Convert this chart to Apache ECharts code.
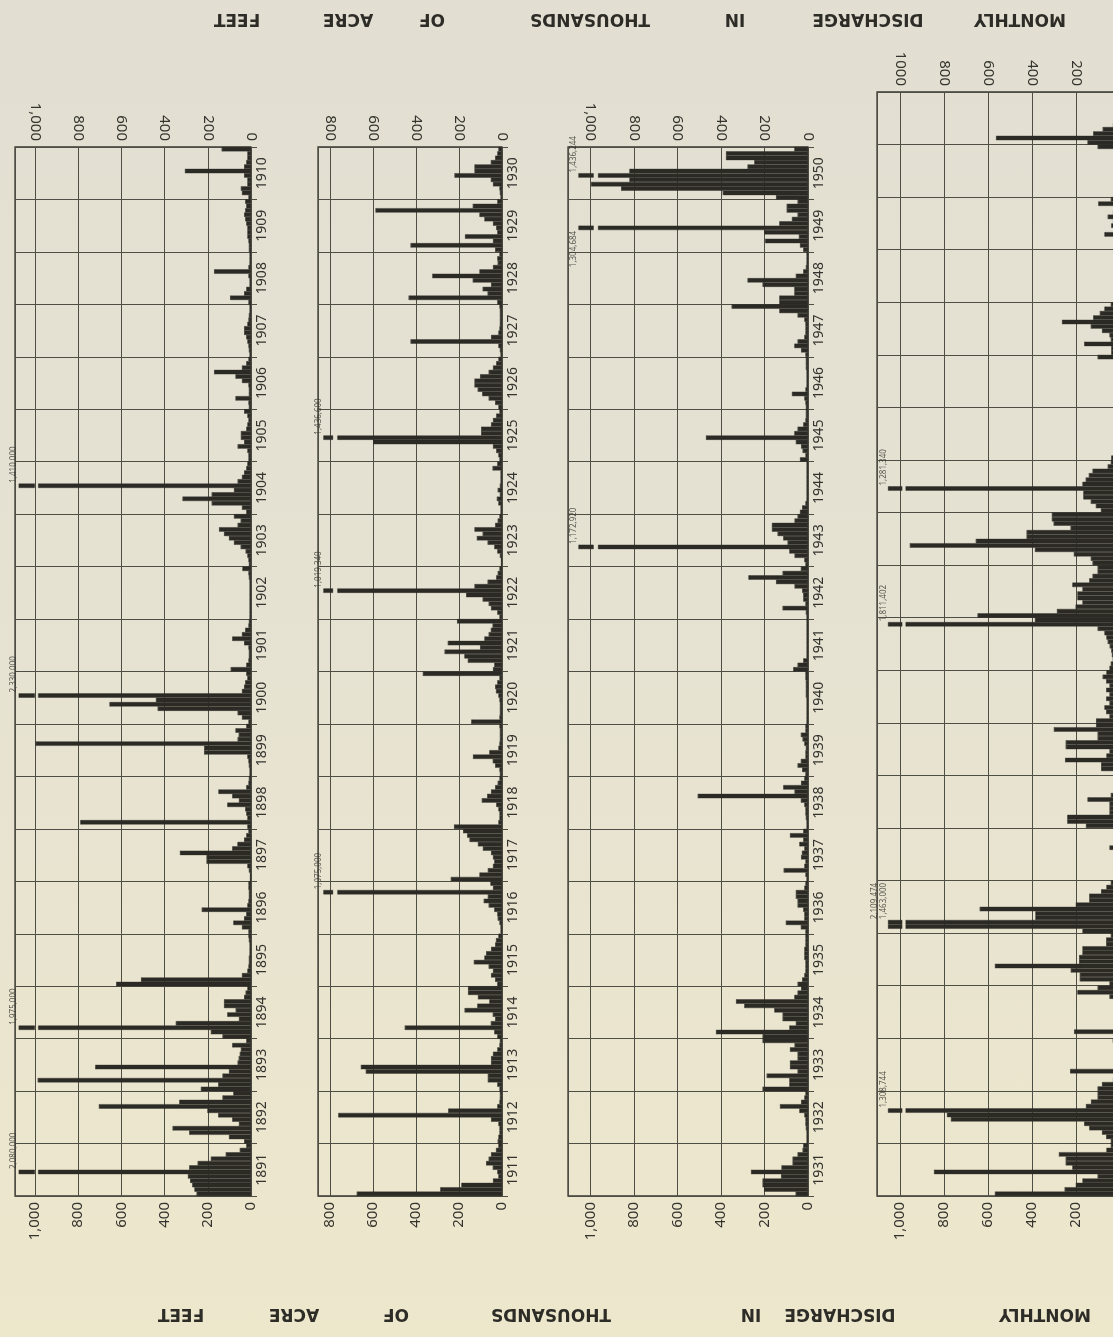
<!DOCTYPE html>
<html>
<head>
<meta charset="utf-8">
<script src="https://cdn.jsdelivr.net/npm/echarts@6/dist/echarts.min.js"></script>
<style>
html,body{margin:0;padding:0;width:1113px;height:1337px;overflow:hidden;
background:linear-gradient(180deg,#e2dfd2 0%,#e6e2d2 45%,#ede7cc 100%);}
#chart{width:1113px;height:1337px;}
</style>
</head>
<body>
<div id="chart"></div>
<script>
// ---------- DATA (thousands of acre-feet, 12 monthly values per year, first month at bottom) ----------
const years1 = ['1891','1892','1893','1894','1895','1896','1897','1898','1899','1900','1901','1902','1903','1904','1905','1906','1907','1908','1909','1910'];
const flows1 = [
  [250,260,270,280,290,2080,284,245,184,115,50,20],
  [30,100,284,361,54,85,150,200,702,330,130,80],
  [230,150,985,130,100,719,60,55,50,45,85,20],
  [130,184,1975,346,54,108,69,123,123,30,23,15],
  [622,507,40,15,10,8,8,5,5,5,8,10],
  [10,40,80,30,20,226,15,10,8,8,10,10],
  [3,3,8,15,204,204,327,85,61,30,20,10],
  [15,788,15,20,25,108,54,85,149,20,10,8],
  [5,5,8,10,15,215,215,995,60,55,70,20],
  [10,40,60,430,653,438,2330,40,30,25,15,20],
  [92,20,10,8,8,10,30,85,40,25,10,8],
  [5,5,5,5,5,5,5,5,5,8,10,38],
  [8,10,15,23,46,77,100,123,146,60,46,77],
  [20,40,180,315,180,77,1410,60,40,30,20,15],
  [10,10,15,60,30,45,45,20,15,10,15,30],
  [8,10,70,8,8,10,40,70,169,40,20,10],
  [5,8,10,15,20,30,30,15,10,8,5,5],
  [10,95,30,20,5,5,10,169,10,5,5,5],
  [8,8,10,15,15,15,20,25,30,25,20,25],
  [10,40,45,15,15,30,304,30,20,15,15,134]
];

const years2 = ['1911','1912','1913','1914','1915','1916','1917','1918','1919','1920','1921','1922','1923','1924','1925','1926','1927','1928','1929','1930'];
const flows2 = [
  [673,285,187,40,15,20,41,72,60,49,26,15],
  [18,15,10,10,15,49,759,248,20,10,8,8],
  [10,20,64,64,631,654,49,49,40,20,10,8],
  [20,34,450,50,30,41,172,113,57,110,156,156],
  [20,30,49,40,60,129,80,72,49,30,26,15],
  [5,5,10,18,20,34,60,83,64,1075,40,52],
  [236,103,64,40,34,40,49,87,110,149,160,179],
  [221,15,10,10,15,25,92,67,49,30,18,10],
  [8,10,30,41,133,57,15,10,8,8,8,10],
  [141,10,8,8,8,10,15,26,30,20,10,366],
  [40,34,157,173,265,100,250,80,60,50,42,207],
  [10,20,49,60,88,165,1019.34,126,65,25,18,10],
  [3,3,8,20,34,65,115,88,126,30,18,10],
  [5,5,15,22,8,18,8,5,5,5,42,20],
  [10,15,25,40,597,1436.6,95,95,49,40,25,10],
  [15,30,60,90,111,126,126,100,60,40,25,15],
  [5,8,15,423,49,15,10,8,8,8,8,10],
  [20,432,65,88,49,134,322,103,40,18,20,10],
  [30,423,40,170,20,25,40,80,103,586,134,20],
  [5,8,10,40,50,219,126,126,50,30,20,15]
];

const years3 = ['1931','1932','1933','1934','1935','1936','1937','1938','1939','1940','1941','1942','1943','1944','1945','1946','1947','1948','1949','1950'];
const flows3 = [
  [55,200,207,207,122,260,120,69,69,46,23,20],
  [5,5,5,8,10,10,15,38,127,30,15,10],
  [207,84,84,188,46,81,81,46,46,81,60,207],
  [207,421,84,54,115,115,153,291,329,61,46,30],
  [46,25,15,10,10,10,15,15,15,10,10,10],
  [10,31,100,15,15,20,46,46,54,54,15,10],
  [5,10,110,15,10,30,26,15,38,20,81,20],
  [5,5,8,10,10,15,31,505,60,112,30,15],
  [10,25,46,31,10,10,8,15,23,31,10,10],
  [5,5,5,5,5,5,8,8,8,8,10,10],
  [66,46,20,5,5,5,5,5,5,5,5,5],
  [5,8,115,10,20,20,25,60,145,272,115,31],
  [10,15,60,84,1172.92,92,112,138,164,164,60,46],
  [35,25,10,5,5,5,5,5,5,5,5,5],
  [35,10,23,30,54,467,61,46,20,10,8,8],
  [8,10,15,72,10,5,5,5,5,8,8,8],
  [10,30,61,46,15,10,10,10,15,46,130,349],
  [130,130,61,61,207,276,54,20,8,5,5,5],
  [20,35,195,40,199,1304.684,130,72,46,96,96,46],
  [145,390,857,995,819,1436.244,819,276,245,375,375,61]
];

const years4 = ['1951','1952','1953','1954','1955','1956','1957','1958','1959','1960','1961','1962','1963','1964','1965','1966','1967','1968','1969','1970','1971'];
const flows4 = [
  [567,250,199,169,100,844,215,245,245,276,60,40],
  [40,61,80,138,161,767,785,1308.744,153,130,100,100],
  [100,80,30,20,225,20,15,15,15,15,20,31],
  [20,207,15,15,15,15,15,15,15,46,192,100],
  [46,181,181,222,567,184,184,169,169,61,61,40],
  [169,2109.474,1463,383,383,636,199,138,138,84,60,40],
  [10,10,10,10,10,10,10,46,20,15,15,15],
  [153,238,238,46,46,46,146,40,23,23,23,23],
  [15,84,84,248,60,46,245,245,100,100,299,107],
  [107,46,61,69,46,61,46,61,46,61,77,60],
  [46,40,31,35,38,45,54,60,69,100,1811.402,385],
  [646,285,200,169,192,192,169,215,138,123,100,100],
  [123,131,208,385,954,654,423,423,223,300,308,308],
  [85,108,131,165,165,1281.34,169,154,140,123,54,40],
  [38,8,8,8,8,8,8,8,8,10,20,8],
  [8,8,8,8,8,8,8,8,8,8,8,100],
  [38,38,161,40,46,80,131,262,120,90,69,40],
  [5,5,5,5,5,5,5,5,5,5,5,5],
  [10,10,15,69,20,38,30,54,30,20,97,40],
  [10,10,10,10,10,10,10,10,10,10,10,100],
  [146,562,120,77,30,5,5,5,5,5,5,5]
];

const monthNames = ['Jan','Feb','Mar','Apr','May','Jun','Jul','Aug','Sep','Oct','Nov','Dec'];
const valueTicks = [0,200,400,600,800,1000];
const peakLabelsBelow = ['1949'];
const titleWords = ['MONTHLY','DISCHARGE','IN','THOUSANDS','OF','ACRE','FEET'];

// ---------- LAYOUT / STYLE ----------
const titleTopX = [1020,868,735,590,432,348,237];
const titleBottomX = [1045,840,751,551,396,294,181];
const panels = [
  {years:years1, rows:flows1, left:15,  width:236, top:147, height:1049, max:1092, main:985, gap:15, cap:75, topComma:true},
  {years:years2, rows:flows2, left:318, width:184, top:147, height:1049, max:855,  main:765, gap:20, cap:45, topComma:true},
  {years:years3, rows:flows3, left:568, width:240, top:147, height:1049, max:1103, main:965, gap:20, cap:70, topComma:true},
  {years:years4, rows:flows4, left:877, width:243, top:92,  height:1104, max:1105, main:975, gap:15, cap:65, topComma:false}
];
const INK = '#2b2a25';
const GRIDC = '#4f4e45';
const TXT = '#34332e';
const FONT = '"Noto Sans", "DejaVu Sans", sans-serif';

function fmtVal(v, comma) {
  if (valueTicks.indexOf(v) < 0) return '';
  if (v === 1000) return comma ? '1,000' : '1000';
  return String(v);
}

const grid = [], xAxis = [], yAxis = [], series = [];
panels.forEach((P, i) => {
  grid.push({left:P.left, top:P.top, width:P.width, height:P.height, show:true,
    containLabel:false, outerBoundsMode:'none',
    borderColor:'#3a3932', borderWidth:1.3, backgroundColor:'transparent'});
  const commonX = {type:'value', gridIndex:i, inverse:true, min:0, max:P.max, interval:200,
    axisLine:{show:false}, axisTick:{show:false}};
  xAxis.push(Object.assign({}, commonX, {position:'bottom',
    splitLine:{show:true, lineStyle:{color:GRIDC, width:1}},
    axisLabel:{rotate:90, margin:6, fontSize:15, color:TXT, fontFamily:FONT,
      formatter:v => fmtVal(v, true), showMaxLabel:false}}));
  xAxis.push(Object.assign({}, commonX, {position:'top', splitLine:{show:false},
    axisLabel:{rotate:90, margin:6, fontSize:15, color:TXT, fontFamily:FONT,
      formatter:v => fmtVal(v, P.topComma), showMaxLabel:false}}));
  const monthCats = P.years.flatMap(y => monthNames.map(m => y + ' ' + m));
  yAxis.push({type:'category', gridIndex:i, data:monthCats, show:false, boundaryGap:true});
  yAxis.push({type:'category', gridIndex:i, data:P.years, position:'right', boundaryGap:true,
    axisLine:{show:false},
    axisTick:{show:true, interval:0, length:6, lineStyle:{color:GRIDC}},
    splitLine:{show:true, interval:0, lineStyle:{color:GRIDC, width:1}},
    axisLabel:{show:true, interval:0, rotate:90, margin:4, fontSize:14, color:TXT, fontFamily:FONT}});

  const flat = P.rows.flat();
  const isPeak = v => v > P.max;
  const stackId = 'stack' + i;
  const barBase = {type:'bar', xAxisIndex:2*i, yAxisIndex:2*i, stack:stackId,
    barCategoryGap:'0%', silent:true};
  series.push(Object.assign({}, barBase, {name:'main'+i,
    data: flat.map(v => isPeak(v) ? P.main : v),
    itemStyle:{color:INK, borderColor:INK, borderWidth:0.4}}));
  series.push(Object.assign({}, barBase, {name:'gap'+i,
    data: flat.map(v => isPeak(v) ? P.gap : 0),
    itemStyle:{color:'rgba(0,0,0,0)'}}));
  series.push(Object.assign({}, barBase, {name:'cap'+i,
    data: flat.map(v => isPeak(v) ? P.cap : 0),
    itemStyle:{color:INK, borderColor:INK, borderWidth:0.4}}));

  // peak value labels (consecutive peaks share one label block)
  const labels = [];
  flat.forEach((v, idx) => {
    if (!isPeak(v)) return;
    const txt = Math.round(v * 1000).toLocaleString('en-US');
    const yr = P.years[Math.floor(idx / 12)];
    if (labels.length && labels[labels.length - 1].last === idx - 1) {
      labels[labels.length - 1].text += '\n' + txt;
      labels[labels.length - 1].last = idx;
    } else {
      labels.push({idx, last:idx, text:txt, below: peakLabelsBelow.indexOf(yr) >= 0});
    }
  });
  series.push({type:'scatter', xAxisIndex:2*i, yAxisIndex:2*i, symbolSize:0, silent:true, clip:false,
    data: labels.map(l => ({
      value:[P.main + P.gap + P.cap, l.below ? l.idx : l.last],
      name:l.text,
      label: l.below ? {position:'bottom', align:'right'} : {position:'top', align:'left'}
    })),
    label:{show:true, formatter:p => p.name, rotate:90, fontSize:8, lineHeight:9, color:TXT,
      fontFamily:FONT, distance:3, verticalAlign:'bottom'}});
});

const graphic = [];
titleWords.forEach((w, k) => {
  [[titleTopX[k], 18], [titleBottomX[k], 1313]].forEach(([x, y]) => {
    graphic.push({type:'text', x, y, rotation:Math.PI, silent:true,
      style:{text:w, fill:'#2d2c27', fontSize:17, fontWeight:'bold', fontFamily:'"DejaVu Sans", sans-serif',
        align:'center', verticalAlign:'middle'}});
  });
});

const chart = echarts.init(document.getElementById('chart'), null, {renderer:'canvas'});
chart.setOption({
  backgroundColor:'transparent',
  animation:false,
  grid, xAxis, yAxis, series, graphic
});
</script>
</body>
</html>
